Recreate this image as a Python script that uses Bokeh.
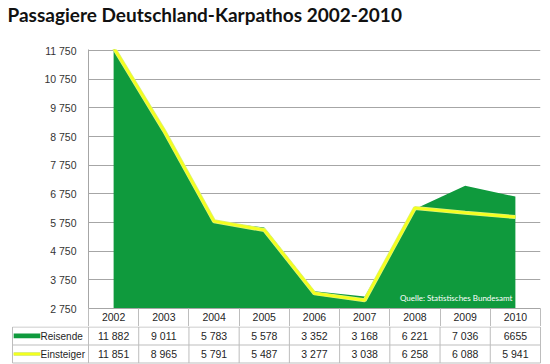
import numpy as np
from bokeh.plotting import figure
from bokeh.models import Range1d, FixedTicker, Label, ColumnDataSource
from bokeh.embed import file_html
from bokeh.resources import INLINE
from bokeh.core.properties import value

# ---------------- data ----------------
years = ["2002", "2003", "2004", "2005", "2006", "2007", "2008", "2009", "2010"]
reisende = [11882, 9011, 5783, 5578, 3352, 3168, 6221, 7036, 6655]
einsteiger = [11851, 8965, 5791, 5487, 3277, 3038, 6258, 6088, 5941]
reisende_labels = ["11 882", "9 011", "5 783", "5 578", "3 352", "3 168", "6 221", "7 036", "6655"]
einsteiger_labels = ["11 851", "8 965", "5 791", "5 487", "3 277", "3 038", "6 258", "6 088", "5 941"]
series_names = ["Reisende", "Einsteiger"]
y_ticks = [2750, 3750, 4750, 5750, 6750, 7750, 8750, 9750, 10750, 11750]
y_tick_labels = ["2 750", "3 750", "4 750", "5 750", "6 750", "7 750", "8 750", "9 750", "10 750", "11 750"]
title_text = "Passagiere Deutschland-Karpathos 2002-2010"
y_title = "Zahl"
source_text = "Quelle: Statistisches Bundesamt"

GREEN = "#0F9A3D"
YELLOW = "#F4FF1E"
HALO = "#DDF07A"
GRID = "#A6A6A6"
TABLE = "#BDBDBD"
TXT = "#1F1F1F"
FONT = "Liberation Sans"
FS = "10.5px"

n = len(years)
centers = np.arange(n) + 0.5

# ---------------- title strip ----------------
TH = 40
t = figure(width=550, height=TH, x_range=Range1d(0, 550), y_range=Range1d(TH, 0),
           output_backend="svg", toolbar_location=None,
           x_axis_location=None, y_axis_location=None, min_border=0)
t.outline_line_color = None
t.xgrid.grid_line_color = None
t.ygrid.grid_line_color = None
t.text(x=[7], y=[13.5], text=[title_text], text_align="left", text_baseline="middle",
       text_font=value("Lato"), text_font_size="19px", text_font_style="bold",
       text_color="#111111")

# ---------------- chart ----------------
p = figure(width=550, height=326 - TH, x_range=Range1d(0, n), y_range=Range1d(2750, 11785),
           output_backend="svg", toolbar_location=None,
           min_border_left=88, min_border_right=10, min_border_bottom=18, min_border_top=49 - TH)
p.outline_line_color = None
p.background_fill_color = "white"

src = ColumnDataSource(dict(x=centers, r=reisende, e=einsteiger))
p.varea(x="x", y1=2750, y2="r", source=src, fill_color=GREEN)
p.line(x="x", y="e", source=src, line_color=HALO, line_width=4)
p.line(x="x", y="e", source=src, line_color=YELLOW, line_width=2.6)

# y axis
p.yaxis.ticker = FixedTicker(ticks=y_ticks)
p.yaxis.major_label_overrides = {t_: l for t_, l in zip(y_ticks, y_tick_labels)}
p.yaxis.major_tick_out = 0
p.yaxis.major_tick_in = 0
p.yaxis.minor_tick_line_color = None
p.yaxis.axis_line_color = GRID
p.yaxis.major_label_standoff = 12
p.yaxis.major_label_text_font = FONT
p.yaxis.major_label_text_font_size = FS
p.yaxis.major_label_text_color = "#333333"
p.ygrid.grid_line_color = GRID
p.ygrid.ticker = FixedTicker(ticks=y_ticks)
p.xgrid.grid_line_color = None

# x axis = header row of the data table
p.xaxis.ticker = FixedTicker(ticks=list(centers), minor_ticks=list(range(n + 1)))
p.xaxis.major_label_overrides = {float(c): y for c, y in zip(centers, years)}
p.xaxis.major_tick_line_color = None
p.xaxis.major_tick_out = 0
p.xaxis.major_tick_in = 0
p.xaxis.minor_tick_out = 18
p.xaxis.minor_tick_in = 0
p.xaxis.minor_tick_line_color = TABLE
p.xaxis.axis_line_color = GRID
p.xaxis.major_label_standoff = -14
p.xaxis.major_label_text_font = FONT
p.xaxis.major_label_text_font_size = FS
p.xaxis.major_label_text_color = TXT

p.add_layout(Label(x=-1.235, y=8436, text=y_title, angle=np.pi / 2,
                   text_align="center", text_baseline="middle",
                   text_font=FONT, text_font_size=FS, text_font_style="bold",
                   text_color=TXT))
p.add_layout(Label(x=8.44, y=3099, text=source_text, text_align="right",
                   text_baseline="middle", text_font="Lato", text_font_size="8px",
                   text_color="white"))

# ---------------- table rows ----------------
px_per_unit = 452 / n
x_end = n + 1 / px_per_unit
x_start = x_end - 530 / px_per_unit
q = figure(width=550, height=38, x_range=Range1d(x_start, x_end),
           y_range=Range1d(2.083, -0.028), output_backend="svg", toolbar_location=None,
           x_axis_location=None, y_axis_location=None,
           min_border_left=11, min_border_right=9, min_border_top=0, min_border_bottom=0)
q.outline_line_color = None
q.xgrid.grid_line_color = None
q.ygrid.grid_line_color = None

left_edge = x_start + 0.02
rows = [0, 1, 2]
q.segment(x0=[left_edge] * 3, x1=[n] * 3, y0=rows, y1=rows, line_color=TABLE, line_width=1)
vx = [left_edge] + list(range(n + 1))
q.segment(x0=vx, x1=vx, y0=[0] * len(vx), y1=[2] * len(vx), line_color=TABLE, line_width=1)

q.text(x=centers, y=[0.5] * n, text=reisende_labels, text_align="center",
       text_baseline="middle", text_font=value(FONT), text_font_size=FS, text_color=TXT)
q.text(x=centers, y=[1.5] * n, text=einsteiger_labels, text_align="center",
       text_baseline="middle", text_font=value(FONT), text_font_size=FS, text_color=TXT)

key_l, key_r = -1.49, -0.96
q.quad(left=[key_l], right=[key_r], top=[0.36], bottom=[0.62], fill_color=GREEN, line_color=None)
q.line(x=[key_l, key_r], y=[1.5, 1.5], line_color=HALO, line_width=4)
q.line(x=[key_l, key_r], y=[1.5, 1.5], line_color=YELLOW, line_width=2)
q.text(x=[key_r + 0.005] * 2, y=[0.5, 1.5], text=series_names, text_align="left",
       text_baseline="middle", text_font=value(FONT), text_font_size="10px", text_color=TXT)

open("out.html", "w").write(file_html([t, p, q], INLINE))
